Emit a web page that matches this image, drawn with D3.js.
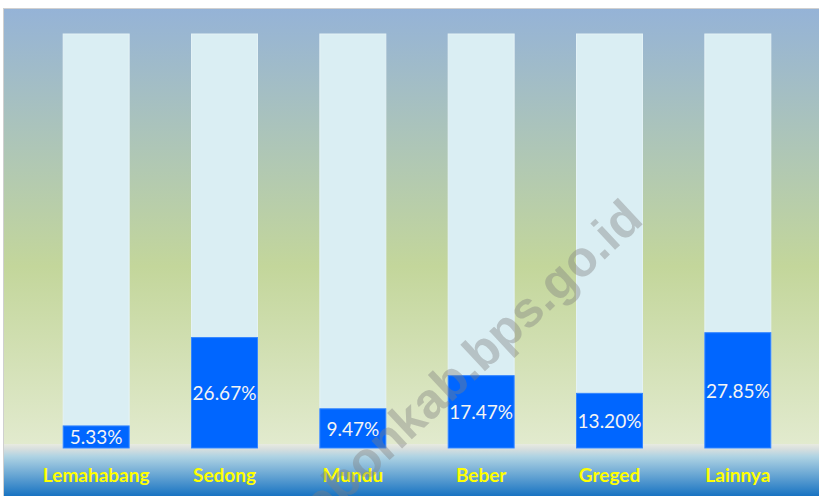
<!DOCTYPE html>
<html>
<head>
<meta charset="utf-8">
<script src="https://cdn.jsdelivr.net/npm/d3@7"></script>
<style>
  body { margin: 0; background: #fff; }
</style>
</head>
<body>
<div id="chart"></div>
<script>
var svgWidth = 819;
var svgHeight = 496;

// data
var categories = ["Lemahabang", "Sedong", "Mundu", "Beber", "Greged", "Lainnya"];
var values = [5.33, 26.67, 9.47, 17.47, 13.20, 27.85];
var fullValue = 100;

var svg = d3.select("#chart")
  .append("svg")
  .attr("width", svgWidth)
  .attr("height", svgHeight);

var defs = svg.append("defs");

// chart area gradient
var bg = defs.append("linearGradient")
  .attr("id", "bgGrad")
  .attr("x1", 0).attr("y1", 0).attr("x2", 0).attr("y2", 1);
bg.append("stop").attr("offset", "0%").attr("stop-color", "#95B3D7");
bg.append("stop").attr("offset", "52%").attr("stop-color", "#C3D69B");
bg.append("stop").attr("offset", "100%").attr("stop-color", "#ECF1DF");

// blue strip under the bars
var strip = defs.append("linearGradient")
  .attr("id", "stripGrad")
  .attr("x1", 0).attr("y1", 0).attr("x2", 0).attr("y2", 1);
strip.append("stop").attr("offset", "0%").attr("stop-color", "#E8EBE0");
strip.append("stop").attr("offset", "10%").attr("stop-color", "#D6DEDE");
strip.append("stop").attr("offset", "24%").attr("stop-color", "#AFD3E3");
strip.append("stop").attr("offset", "100%").attr("stop-color", "#1873C2");

// frame
svg.append("rect")
  .attr("x", 3.5).attr("y", 8.5)
  .attr("width", svgWidth).attr("height", svgHeight)
  .attr("fill", "url(#bgGrad)")
  .attr("stroke", "#d0d0d0");

var baseY = 448;

svg.append("rect")
  .attr("x", 4).attr("y", baseY - 4)
  .attr("width", svgWidth).attr("height", svgHeight - baseY + 4)
  .attr("fill", "url(#stripGrad)");

// scales
var x = d3.scaleBand()
  .domain(categories)
  .range([32, 802])
  .paddingInner(0.486)
  .paddingOuter(0.243);

var y = d3.scaleLinear()
  .domain([0, fullValue])
  .range([baseY, 34]);

var chartGroup = svg.append("g");

// background (100%) bars
chartGroup.selectAll(".bgBar")
  .data(categories)
  .enter()
  .append("rect")
  .attr("class", "bgBar")
  .attr("x", d => x(d))
  .attr("y", y(fullValue))
  .attr("width", x.bandwidth())
  .attr("height", y(0) - y(fullValue))
  .attr("fill", "#DAEEF3")
  .attr("stroke", "#E4F2F6")
  .attr("stroke-width", 1);

// value bars
chartGroup.selectAll(".valBar")
  .data(values)
  .enter()
  .append("rect")
  .attr("class", "valBar")
  .attr("x", (d, i) => x(categories[i]))
  .attr("y", d => y(d))
  .attr("width", x.bandwidth())
  .attr("height", d => y(0) - y(d))
  .attr("fill", "#0066FF")
  .attr("stroke", "#3385FF")
  .attr("stroke-width", 1);

// value labels
chartGroup.selectAll(".valText")
  .data(values)
  .enter()
  .append("text")
  .attr("class", "valText")
  .attr("x", (d, i) => x(categories[i]) + x.bandwidth() / 2)
  .attr("y", d => (y(d) + y(0)) / 2)
  .attr("text-anchor", "middle")
  .attr("dominant-baseline", "central")
  .attr("font-family", "Lato, 'Open Sans', sans-serif")
  .attr("font-size", 19)
  .attr("fill", "#F4F4F4")
  .text(d => d.toFixed(2) + "%");

// category axis labels
var xAxis = d3.axisBottom(x).tickSize(0).tickPadding(0);
var axisG = svg.append("g")
  .attr("transform", `translate(0, ${baseY})`)
  .call(xAxis);
axisG.select(".domain").remove();
axisG.selectAll("text")
  .attr("dy", null)
  .attr("y", 34)
  .attr("font-family", "Lato, 'Open Sans', sans-serif")
  .attr("font-weight", "bold")
  .attr("font-size", 19)
  .attr("fill", "#FFFF00");

// watermark
svg.append("text")
  .attr("transform", "translate(645, 222) rotate(-43)")
  .attr("text-anchor", "end")
  .attr("font-family", "'Liberation Sans', Arial, sans-serif")
  .attr("font-weight", "bold")
  .attr("font-size", 50)
  .attr("fill", "#808080")
  .attr("fill-opacity", 0.4)
  .text("cirebonkab.bps.go.id");
</script>
</body>
</html>
